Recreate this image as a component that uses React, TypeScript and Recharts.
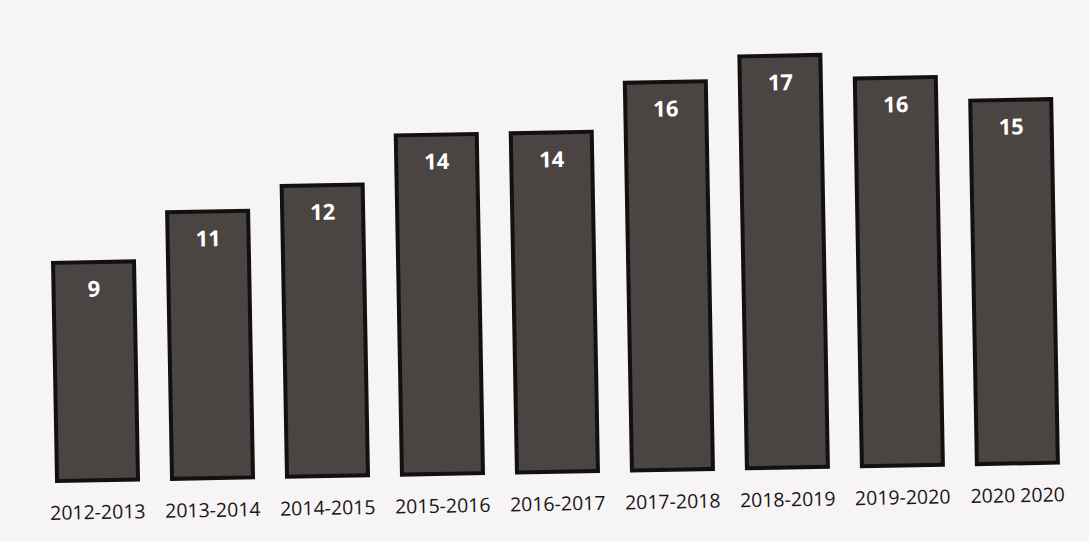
import React from "react";
import { BarChart, Bar, XAxis, YAxis, LabelList } from "recharts";

const categories = ["2012-2013", "2013-2014", "2014-2015", "2015-2016", "2016-2017", "2017-2018", "2018-2019", "2019-2020", "2020 2020"];
const values = [9, 11, 12, 14, 14, 16, 17, 16, 15];

const data = categories.map((c, i) => ({ name: c, value: values[i] }));

export default function App() {
  return (
    <div style={{ position: "fixed", left: 0, top: 0, width: 1089, height: 541, background: "#f6f4f4", overflow: "hidden" }}>
      <div style={{ width: 1089, height: 541, transform: "rotate(-1.05deg)", transformOrigin: "544px 270px" }}>
        <BarChart
          width={1089}
          height={541}
          data={data}
          margin={{ top: 60, right: 18, bottom: 29, left: 36 }}
          barCategoryGap="15%"
        >
          <XAxis
            dataKey="name"
            height={40}
            axisLine={false}
            tickLine={false}
            tickMargin={19}
            interval={0}
            tick={{ fill: "#1a1616", fontSize: 19.5, fontFamily: "'Open Sans', sans-serif" }}
          />
          <YAxis hide domain={[0, 17]} />
          <Bar dataKey="value" fill="#4a4542" stroke="#111" strokeWidth={4} isAnimationActive={false}>
            <LabelList
              dataKey="value"
              position="insideTop"
              offset={19}
              fill="#ffffff"
              fontSize={22}
              fontWeight="bold"
              fontFamily="'Open Sans', sans-serif"
            />
          </Bar>
        </BarChart>
      </div>
    </div>
  );
}
